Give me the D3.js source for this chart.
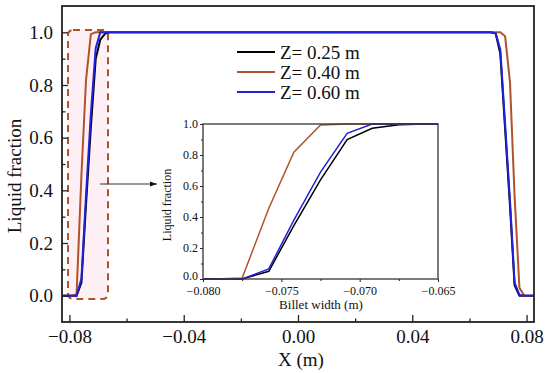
<!DOCTYPE html>
<html>
<head>
<meta charset="utf-8">
<script src="https://d3js.org/d3.v7.min.js"></script>
<style>
  body { margin: 0; background: #fff; }
  text { font-family: "Liberation Serif", "Times New Roman", serif; fill: #111; }
</style>
</head>
<body>
<div id="chart"></div>
<script>
// x positions of the solver nodes (m)
const leftX  = [-0.0826, -0.0808, -0.0792, -0.0775, -0.0758, -0.0742, -0.0725, -0.0708, -0.0692, -0.0675, -0.0658, -0.0642];
const rightX = [0.0642, 0.0658, 0.0675, 0.0692, 0.0708, 0.0725, 0.0742, 0.0758, 0.0775, 0.0792, 0.0808, 0.0826];

// liquid fraction, left edge
const z025Left = [0, 0, 0, 0, 0.05, 0.345, 0.64, 0.90, 0.972, 0.995, 1, 1];
const z040Left = [0, 0, 0, 0.006, 0.457, 0.818, 0.993, 1, 1, 1, 1, 1];
const z060Left = [0, 0, 0, 0, 0.065, 0.38, 0.69, 0.94, 1, 1, 1, 1];
// liquid fraction, right edge
const z025Right = [1, 1, 1, 0.995, 0.92, 0.63, 0.34, 0.04, 0, 0, 0, 0];
const z040Right = [1, 1, 1, 1, 1, 0.985, 0.81, 0.38, 0.03, 0, 0, 0];
const z060Right = [1, 1, 1, 0.996, 0.935, 0.65, 0.36, 0.05, 0.003, 0, 0, 0];

const seriesNames = ["Z= 0.25 m", "Z= 0.40 m", "Z= 0.60 m"];
const seriesColors = ["#000000", "#b0522a", "#2020dd"];

const mainXTicks = [-0.08, -0.04, 0.00, 0.04, 0.08];
const mainYTicks = [0.0, 0.2, 0.4, 0.6, 0.8, 1.0];
const insetXTicks = [-0.080, -0.075, -0.070, -0.065];
const insetYTicks = [0.0, 0.2, 0.4, 0.6, 0.8, 1.0];

function buildSeries(lx, ly, rx, ry) {
  const pts = lx.map((x, i) => [x, ly[i]]);
  return pts.concat(rx.map((x, i) => [x, ry[i]]));
}
const series = [
  buildSeries(leftX, z025Left, rightX, z025Right),
  buildSeries(leftX, z040Left, rightX, z040Right),
  buildSeries(leftX, z060Left, rightX, z060Right)
];

const W = 550, H = 373;
const svg = d3.select('#chart').append('svg')
  .attr('width', W)
  .attr('height', H);

// main plot area
const m = { left: 62, right: 534, top: 6, bottom: 322 };
const x = d3.scaleLinear().domain([-0.0826, 0.0826]).range([m.left, m.right]);
const y = d3.scaleLinear().domain([-0.1, 1.1]).range([m.bottom, m.top]);

// highlighted zoom box
svg.append('rect')
  .attr('x', 68).attr('y', 30)
  .attr('width', 40).attr('height', 269)
  .attr('rx', 5)
  .attr('fill', '#fdf0f4')
  .attr('stroke', '#b0522e')
  .attr('stroke-width', 2)
  .attr('stroke-dasharray', '7,5');

const line = d3.line().x(d => x(d[0])).y(d => y(d[1]));
series.forEach((s, i) => {
  svg.append('path')
    .datum(s)
    .attr('d', line)
    .attr('fill', 'none')
    .attr('stroke', seriesColors[i])
    .attr('stroke-width', 2);
});

// axes with inward ticks
const xAxis = svg.append('g').attr('transform', `translate(0,${m.bottom})`)
  .call(d3.axisBottom(x).tickValues(mainXTicks).tickSizeInner(-7).tickSizeOuter(0)
    .tickFormat(d3.format('.2f')).tickPadding(8));
svg.append('g').attr('transform', `translate(0,${m.bottom})`)
  .call(d3.axisBottom(x).tickValues([-0.06, -0.02, 0.02, 0.06]).tickSizeInner(-3.5).tickSizeOuter(0).tickFormat(''));
const yAxis = svg.append('g').attr('transform', `translate(${m.left},0)`)
  .call(d3.axisLeft(y).tickValues(mainYTicks).tickSizeInner(-6).tickSizeOuter(0)
    .tickFormat(d3.format('.1f')).tickPadding(9));
svg.append('g').attr('transform', `translate(${m.left},0)`)
  .call(d3.axisLeft(y).tickValues([0.1, 0.3, 0.5, 0.7, 0.9]).tickSizeInner(-3.5).tickSizeOuter(0).tickFormat(''));
svg.selectAll('.domain').remove();
xAxis.selectAll('text').attr('font-size', 19).attr('dy', '0.71em');
yAxis.selectAll('text').attr('font-size', 19);
svg.selectAll('.tick line').attr('stroke', '#222').attr('stroke-width', 1.3);

svg.append('rect')
  .attr('x', m.left).attr('y', m.top)
  .attr('width', m.right - m.left).attr('height', m.bottom - m.top)
  .attr('fill', 'none').attr('stroke', '#222').attr('stroke-width', 1.8);

svg.append('text')
  .attr('x', (m.left + m.right) / 2 + 3).attr('y', 366)
  .attr('text-anchor', 'middle').attr('font-size', 19)
  .text('X (m)');
svg.append('text')
  .attr('transform', 'translate(21,176) rotate(-90)')
  .attr('text-anchor', 'middle').attr('font-size', 19)
  .text('Liquid fraction');

// legend
seriesNames.forEach((name, i) => {
  const ly = 52 + i * 20;
  svg.append('line')
    .attr('x1', 237).attr('x2', 275).attr('y1', ly).attr('y2', ly)
    .attr('stroke', seriesColors[i]).attr('stroke-width', 2);
  svg.append('text')
    .attr('x', 280).attr('y', ly).attr('dy', '0.35em')
    .attr('font-size', 19)
    .text(name);
});

// arrow to the inset
const defs = svg.append('defs');
defs.append('marker')
  .attr('id', 'arrow').attr('viewBox', '0 0 10 10')
  .attr('refX', 10).attr('refY', 5)
  .attr('markerWidth', 7).attr('markerHeight', 7)
  .attr('orient', 'auto')
  .append('path').attr('d', 'M0,1.5 L10,5 L0,8.5 Z').attr('fill', '#111');
svg.append('line')
  .attr('x1', 100).attr('x2', 157).attr('y1', 184).attr('y2', 184)
  .attr('stroke', '#333').attr('stroke-width', 1)
  .attr('marker-end', 'url(#arrow)');

// inset
const ins = { left: 203, right: 438, top: 124, bottom: 279 };
const xi = d3.scaleLinear().domain([-0.080, -0.065]).range([ins.left, ins.right]);
const yi = d3.scaleLinear().domain([0, 1]).range([ins.bottom, ins.top]);

svg.append('rect')
  .attr('x', ins.left).attr('y', ins.top)
  .attr('width', ins.right - ins.left).attr('height', ins.bottom - ins.top)
  .attr('fill', '#fff');
defs.append('clipPath').attr('id', 'insetClip')
  .append('rect')
  .attr('x', ins.left).attr('y', ins.top - 1)
  .attr('width', ins.right - ins.left).attr('height', ins.bottom - ins.top + 2);

const lineI = d3.line().x(d => xi(d[0])).y(d => yi(d[1]));
const insG = svg.append('g').attr('clip-path', 'url(#insetClip)');
series.forEach((s, i) => {
  insG.append('path')
    .datum(s.filter(d => d[0] < -0.06))
    .attr('d', lineI)
    .attr('fill', 'none')
    .attr('stroke', seriesColors[i])
    .attr('stroke-width', 1.5);
});

const xiAxis = svg.append('g').attr('transform', `translate(0,${ins.bottom})`)
  .call(d3.axisBottom(xi).tickValues(insetXTicks).tickSize(3).tickPadding(4)
    .tickFormat(d3.format('.3f')));
svg.append('g').attr('transform', `translate(0,${ins.bottom})`)
  .call(d3.axisBottom(xi).tickValues([-0.0775, -0.0725, -0.0675]).tickSize(2).tickFormat(''));
const yiAxis = svg.append('g').attr('transform', `translate(${ins.left},0)`)
  .call(d3.axisLeft(yi).tickValues(insetYTicks).tickSize(3).tickPadding(2)
    .tickFormat(d3.format('.1f')));
svg.append('g').attr('transform', `translate(${ins.left},0)`)
  .call(d3.axisLeft(yi).tickValues([0.1, 0.3, 0.5, 0.7, 0.9]).tickSize(2).tickFormat(''));
svg.selectAll('.domain').remove();
xiAxis.selectAll('text').attr('font-size', 12);
yiAxis.selectAll('text').attr('font-size', 12);
yiAxis.selectAll('.tick').filter(d => d === 0).select('text').attr('dy', '0.05em');
svg.selectAll('.tick line').attr('stroke', '#222');

svg.append('rect')
  .attr('x', ins.left).attr('y', ins.top)
  .attr('width', ins.right - ins.left).attr('height', ins.bottom - ins.top)
  .attr('fill', 'none').attr('stroke', '#333').attr('stroke-width', 1.3);

svg.append('text')
  .attr('x', 321).attr('y', 304).attr('dy', '0.35em')
  .attr('text-anchor', 'middle').attr('font-size', 13)
  .text('Billet width (m)');
svg.append('text')
  .attr('transform', 'translate(171,205) rotate(-90)')
  .attr('text-anchor', 'middle').attr('font-size', 12)
  .text('Liquid fraction');
</script>
</body>
</html>
